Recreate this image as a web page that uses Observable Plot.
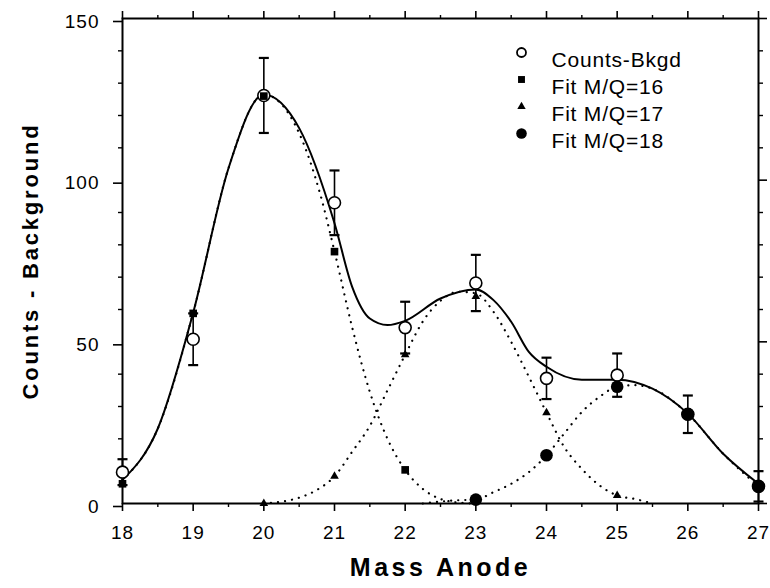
<!DOCTYPE html>
<html>
<head>
<meta charset="utf-8">
<script src="https://cdn.jsdelivr.net/npm/d3@7"></script>
<script src="https://cdn.jsdelivr.net/npm/@observablehq/plot@0.6"></script>
<style>
  body { margin: 0; background: #fff; }
  #chart { width: 770px; height: 588px; }
</style>
</head>
<body>
<div id="chart"></div>
<script>
// ---- data ----
const massAnode   = [18, 19, 20, 21, 22, 23, 24, 25, 26, 27];
const countsBkgd  = [9.7, 50.8, 126.2, 93, 54.4, 68.2, 38.7, 39.7, 27.6, 5.3];
const countsErr   = [4, 8, 11.6, 10, 8, 8.7, 6.4, 6.7, 5.8, 4.7];

const fit16X = [18, 19, 20, 21, 22];
const fit16Y = [6.1, 58.8, 126, 77.9, 10.4];
const fit17X = [20, 21, 22, 23, 24, 25];
const fit17Y = [0, 8.4, 46, 64, 28.1, 2.5];
const fit18X = [23, 24, 25, 26, 27];
const fit18Y = [1.2, 14.9, 36.1, 27.6, 5.3];

// solid total-fit curve
const totalCurveX = [18, 18.5, 19, 19.5, 20, 20.5, 21, 21.25, 21.5, 21.75, 22, 22.5, 23, 23.25, 23.5, 23.75, 24, 24.5, 25, 25.5, 26, 26.5, 27];
const totalCurveY = [7.3, 23.2, 59, 103.7, 126.5, 116.1, 86.7, 67, 57.2, 55.2, 56.5, 63.4, 66.2, 62.9, 56.2, 46.9, 42.3, 38.3, 38.3, 35.5, 27.8, 15.4, 6.1];

// dotted component curves
const curve16X = [18, 18.5, 19, 19.5, 20, 20.5, 20.8, 21, 21.25, 21.5, 21.75, 22, 22.25, 22.5, 22.75, 23];
const curve16Y = [7.3, 23.2, 59, 103.7, 126.5, 114.5, 95.5, 78, 54.5, 34.5, 20, 10.4, 4.5, 1.4, 0.3, 0];
const curve17X = [20, 20.5, 20.75, 21, 21.25, 21.5, 21.75, 22, 22.25, 22.5, 22.75, 23, 23.25, 23.5, 23.75, 24, 24.25, 24.5, 24.75, 25, 25.25, 25.5];
const curve17Y = [0, 1.8, 4.2, 8.4, 16, 24, 35, 46, 56.3, 62.7, 65.5, 65, 59.3, 50, 39.2, 28.1, 17.5, 10.7, 5.6, 2.5, 1.4, 0];
const curve18X = [22.25, 22.5, 22.75, 23, 23.25, 23.5, 23.75, 24, 24.25, 24.5, 24.75, 25, 25.25, 25.5, 26, 26.5, 27];
const curve18Y = [0, 0.6, 1.0, 1.2, 3.5, 6.1, 9.7, 14.9, 21.6, 28.3, 33, 36.1, 36.6, 35.5, 27.7, 15.4, 5.3];

const xTicks = [18, 19, 20, 21, 22, 23, 24, 25, 26, 27];
const xMinorTicks = [18.5, 19.5, 20.5, 21.5, 22.5, 23.5, 24.5, 25.5, 26.5];
const yTicks = [0, 50, 100, 150];
const yMinorTicks = [10, 20, 30, 40, 60, 70, 80, 90, 110, 120, 130, 140];

const legendLabels = ["Counts-Bkgd", "Fit M/Q=16", "Fit M/Q=17", "Fit M/Q=18"];
const xTitle = "Mass Anode";
const yTitle = "Counts - Background";

// ---- helpers ----
const pts = (xs, ys) => xs.map((x, i) => ({x, y: ys[i]}));
const counts = massAnode.map((x, i) => ({x, y: countsBkgd[i], lo: countsBkgd[i] - countsErr[i], hi: countsBkgd[i] + countsErr[i]}));
const capSymbol = { draw(ctx) { ctx.moveTo(-5, 0); ctx.lineTo(5, 0); } };

const dotted = {stroke: "black", strokeWidth: 2.2, strokeDasharray: "0.1 7", strokeLinecap: "round", curve: "monotone-x"};

const legendSymbols = [
  {symbol: "circle", r: 4.5, fill: "white", stroke: "black", strokeWidth: 1.8},
  {symbol: "square", r: 3.9, fill: "black"},
  {symbol: "triangle", r: 3.1, fill: "black"},
  {symbol: "circle", r: 5.3, fill: "black"}
];

const marks = [
  Plot.frame({stroke: "black", strokeWidth: 2}),
  // axes
  Plot.axisX({anchor: "bottom", ticks: xTicks, tickSize: 8, tickPadding: 14, fontSize: 19, strokeWidth: 1.6, tickFormat: d => String(d)}),
  Plot.axisX({anchor: "bottom", ticks: xMinorTicks, tickSize: 4, tickFormat: () => "", strokeWidth: 1.4}),
  Plot.axisX({anchor: "top", ticks: xTicks, tickSize: 8, tickFormat: () => "", strokeWidth: 1.6}),
  Plot.axisX({anchor: "top", ticks: xMinorTicks, tickSize: 4, tickFormat: () => "", strokeWidth: 1.4}),
  Plot.axisY({anchor: "left", ticks: yTicks, tickSize: 9, tickPadding: 14, fontSize: 19, dy: 3, strokeWidth: 1.6, tickFormat: d => String(d)}),
  Plot.axisY({anchor: "left", ticks: yMinorTicks, tickSize: 4, tickFormat: () => "", strokeWidth: 1.4}),
  Plot.axisY({anchor: "right", ticks: yTicks, tickSize: 8, tickFormat: () => "", strokeWidth: 1.6}),
  Plot.axisY({anchor: "right", ticks: yMinorTicks, tickSize: 4, tickFormat: () => "", strokeWidth: 1.4}),
  // curves
  Plot.line(pts(curve16X, curve16Y), {x: "x", y: "y", ...dotted}),
  Plot.line(pts(curve17X, curve17Y), {x: "x", y: "y", ...dotted}),
  Plot.line(pts(curve18X, curve18Y), {x: "x", y: "y", ...dotted}),
  Plot.line(pts(totalCurveX, totalCurveY), {x: "x", y: "y", stroke: "black", strokeWidth: 2, curve: "monotone-x"}),
  // error bars
  Plot.ruleX(counts, {x: "x", y1: "lo", y2: "hi", stroke: "black", strokeWidth: 1.6}),
  Plot.dot(counts, {x: "x", y: "hi", symbol: capSymbol, stroke: "black", strokeWidth: 2.2, fill: "none"}),
  Plot.dot(counts, {x: "x", y: "lo", symbol: capSymbol, stroke: "black", strokeWidth: 2.2, fill: "none"}),
  // points
  Plot.dot(counts, {x: "x", y: "y", r: 6, fill: "white", stroke: "black", strokeWidth: 1.6}),
  Plot.dot(pts(fit16X, fit16Y), {x: "x", y: "y", symbol: "square", r: 4.3, fill: "black"}),
  Plot.dot(pts(fit17X, fit17Y), {x: "x", y: "y", symbol: "triangle", r: 3.2, fill: "black"}),
  Plot.dot(pts(fit18X, fit18Y), {x: "x", y: "y", symbol: "circle", r: 6.3, fill: "black"}),
  // titles
  Plot.text([xTitle], {text: d => d, frameAnchor: "bottom", dy: 72, fontSize: 25, fontWeight: "bold", textAnchor: "middle"}),
  Plot.text([yTitle], {text: d => d, frameAnchor: "left", dx: -92, rotate: -90, fontSize: 22, fontWeight: "bold", textAnchor: "middle"})
];

// legend
legendLabels.forEach((lab, i) => {
  marks.push(Plot.dot([lab], {frameAnchor: "top-left", dx: 399, dy: 34 + i * 27, ...legendSymbols[i]}));
  marks.push(Plot.text([lab], {text: d => d, frameAnchor: "top-left", dx: 429, dy: 34 + i * 27, textAnchor: "start", fontSize: 21}));
});

const chart = Plot.plot({
  width: 770,
  height: 588,
  marginLeft: 122,
  marginRight: 12,
  marginTop: 18,
  marginBottom: 85,
  style: {fontFamily: "'Liberation Sans', Arial, Helvetica, sans-serif", background: "white", color: "black"},
  x: {domain: [18, 27], label: null},
  y: {domain: [0, 150], label: null},
  marks
});

document.getElementById("chart").appendChild(chart);

const svg = d3.select(chart);
const byText = (list) => svg.selectAll("text").filter(function () { return list.includes(this.textContent); });
svg.selectAll('g[aria-label="x-axis tick label"] text').attr("letter-spacing", "1px");
svg.selectAll('g[aria-label="y-axis tick label"] text').attr("letter-spacing", "1px");
byText(legendLabels).attr("letter-spacing", "0.8px");
byText([xTitle]).attr("letter-spacing", "3.5px");
byText([yTitle]).attr("letter-spacing", "2.8px");
</script>
</body>
</html>
